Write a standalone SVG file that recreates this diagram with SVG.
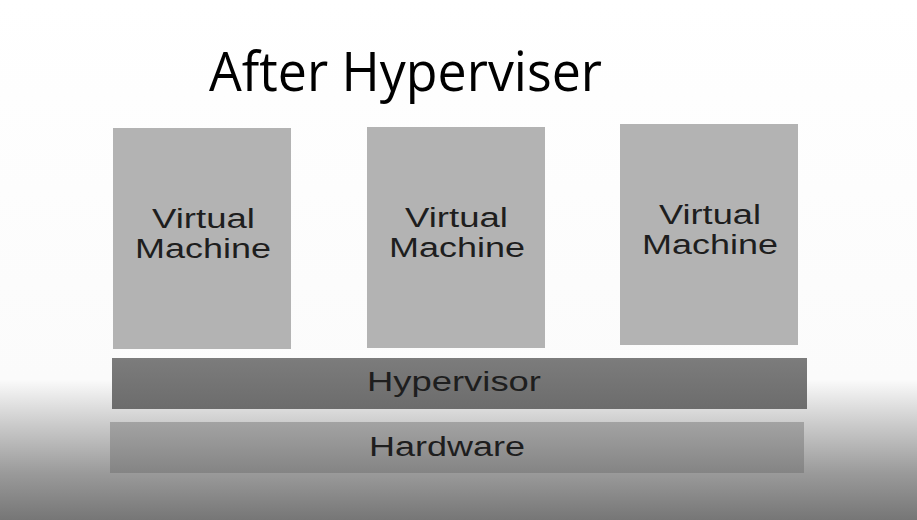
<svg xmlns="http://www.w3.org/2000/svg" width="917" height="520" viewBox="0 0 917 520">
<defs>
<linearGradient id="bg" x1="0" y1="0" x2="0" y2="1">
<stop offset="0" stop-color="#ffffff"/>
<stop offset="0.73" stop-color="#fbfbfb"/>
<stop offset="0.82" stop-color="#c9c9c9"/>
<stop offset="0.91" stop-color="#9a9a9a"/>
<stop offset="1" stop-color="#767676"/>
</linearGradient>
<linearGradient id="hv" x1="0" y1="0" x2="0" y2="1">
<stop offset="0" stop-color="#7c7c7c"/>
<stop offset="1" stop-color="#6c6c6c"/>
</linearGradient>
<linearGradient id="hw" x1="0" y1="0" x2="0" y2="1">
<stop offset="0" stop-color="#a3a3a3"/>
<stop offset="1" stop-color="#848484"/>
</linearGradient>
<style>
.vm{fill:#b3b3b3;}
.lbl{font-family:"Liberation Sans",Arial,sans-serif;font-size:27px;fill:#1e1e1e;}
.title{font-family:"Open Sans","Noto Sans",sans-serif;font-size:55px;fill:#000;}
</style>
</defs>
<rect width="917" height="520" fill="url(#bg)"/>
<text class="title" x="209" y="91" textLength="393" lengthAdjust="spacingAndGlyphs">After Hyperviser</text>
<g id="vm1">
<rect class="vm" x="113" y="128" width="178" height="221"/>
<text class="lbl" x="152" y="228" textLength="103" lengthAdjust="spacingAndGlyphs">Virtual</text>
<text class="lbl" x="135" y="258" textLength="136" lengthAdjust="spacingAndGlyphs">Machine</text>
</g>
<g id="vm2">
<rect class="vm" x="367" y="127" width="178" height="221"/>
<text class="lbl" x="405" y="227" textLength="103" lengthAdjust="spacingAndGlyphs">Virtual</text>
<text class="lbl" x="389" y="257" textLength="136" lengthAdjust="spacingAndGlyphs">Machine</text>
</g>
<g id="vm3">
<rect class="vm" x="620" y="124" width="178" height="221"/>
<text class="lbl" x="659" y="224" textLength="102" lengthAdjust="spacingAndGlyphs">Virtual</text>
<text class="lbl" x="642" y="254" textLength="136" lengthAdjust="spacingAndGlyphs">Machine</text>
</g>
<g id="hypervisor">
<rect x="112" y="358" width="695" height="51" fill="url(#hv)"/>
<text class="lbl" x="367" y="391" textLength="174" lengthAdjust="spacingAndGlyphs">Hypervisor</text>
</g>
<g id="hardware">
<rect x="110" y="422" width="694" height="51" fill="url(#hw)"/>
<text class="lbl" x="369" y="456" textLength="156" lengthAdjust="spacingAndGlyphs">Hardware</text>
</g>
<g id="connectors"/>
</svg>
